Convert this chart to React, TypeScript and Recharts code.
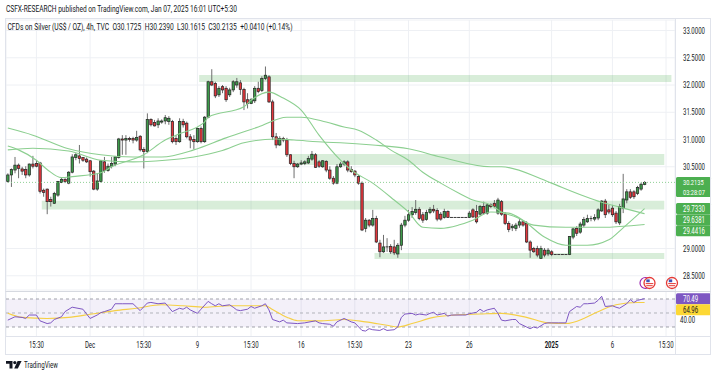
import React from 'react';
import { ComposedChart, Bar, Line, XAxis, YAxis, CartesianGrid, ReferenceArea, ReferenceLine } from 'recharts';

const SLOT_COUNT = 187;

const opens = [
30.23,30.35,30.44,30.53,30.46,30.45,30.35,30.55,30.56,30.57,
30.07,30.09,29.90,29.83,29.98,30.21,30.27,30.20,30.40,30.67,
30.70,30.67,30.64,30.61,30.42,30.09,30.23,30.59,30.43,30.51,
30.55,30.67,31.01,30.99,31.02,31.02,30.99,31.06,30.82,30.78,
31.37,31.31,31.27,31.32,31.34,31.33,31.33,31.02,30.96,31.33,
31.30,31.05,31.00,30.96,31.20,30.96,31.41,32.06,32.03,31.82,
31.97,31.94,31.82,31.91,32.00,32.04,31.92,31.73,31.66,31.71,
31.94,31.90,32.12,32.15,31.69,31.05,30.90,31.02,30.99,30.72,
30.56,30.50,30.55,30.56,30.57,30.64,30.72,30.59,30.50,30.60,
30.44,30.29,30.20,30.50,30.55,30.59,30.45,30.42,30.32,30.20,
29.37,29.52,29.43,29.55,29.10,28.94,29.03,29.04,29.03,28.90,
29.06,29.43,29.52,29.62,29.66,29.72,29.62,29.53,29.66,29.72,
29.70,29.63,29.57,29.68,29.57,29.57,29.57,29.57,29.57,29.57,
29.71,29.68,29.63,29.77,29.65,29.80,29.83,29.65,29.86,29.63,
29.46,29.38,29.37,29.43,29.49,29.46,29.12,29.00,29.00,28.82,
28.97,28.90,28.94,28.89,28.89,28.89,28.89,28.89,29.21,29.37,
29.30,29.43,29.49,29.55,29.54,29.56,29.69,29.87,29.71,29.74,
29.65,29.47,29.74,29.89,30.04,30.04,30.01,30.09,30.1725];

const highs = [
30.38,30.47,30.68,30.56,30.50,30.51,30.56,30.70,30.62,30.59,
30.10,30.10,29.95,30.04,30.24,30.31,30.29,30.42,30.73,30.75,
30.90,30.68,30.67,30.62,30.44,30.38,30.62,30.68,30.56,30.68,
30.70,31.03,31.08,31.08,31.05,31.05,31.16,31.08,30.86,31.48,
31.39,31.36,31.39,31.37,31.45,31.43,31.36,31.08,31.39,31.38,
31.33,31.10,31.08,31.22,31.24,31.43,32.08,32.29,32.06,31.98,
32.00,31.98,31.95,32.09,32.13,32.09,31.95,31.85,31.76,31.98,
32.06,32.16,32.34,32.18,31.73,31.12,31.06,31.05,31.03,30.73,
30.61,30.57,30.62,30.62,30.70,30.79,30.75,30.62,30.62,30.62,
30.51,30.33,30.55,30.59,30.62,30.62,30.51,30.44,30.35,30.23,
29.56,29.54,29.71,29.60,29.16,29.25,29.19,29.08,29.16,29.10,
29.47,29.60,29.71,29.76,29.89,29.76,29.67,29.71,29.76,29.80,
29.74,29.67,29.73,29.70,29.57,29.57,29.57,29.57,29.57,29.69,
29.74,29.80,29.80,29.86,29.83,29.83,29.89,29.93,29.89,29.67,
29.50,29.45,29.47,29.54,29.52,29.50,29.15,29.03,29.05,29.05,
29.01,29.01,28.97,28.89,28.89,28.89,28.89,29.23,29.38,29.41,
29.49,29.58,29.62,29.60,29.63,29.74,29.89,29.91,29.80,29.80,
29.69,29.82,30.37,30.09,30.09,30.07,30.15,30.21,30.2390];

const lows = [
30.21,30.13,30.38,30.29,30.35,30.29,30.32,30.47,30.49,30.01,
29.95,29.63,29.77,29.82,29.95,30.20,30.20,30.18,30.38,30.62,
30.56,30.59,30.57,30.32,30.07,30.06,30.21,30.39,30.41,30.47,
30.51,30.65,30.72,30.72,30.96,30.93,30.96,30.78,30.47,30.75,
31.24,31.24,31.21,31.29,31.28,31.27,30.93,30.90,30.94,31.22,
31.02,30.84,30.82,30.94,30.93,30.94,31.39,31.98,31.76,31.78,
31.85,31.69,31.78,31.87,31.95,31.82,31.54,31.57,31.65,31.67,
31.85,31.87,32.09,31.67,30.99,30.84,30.88,30.95,30.68,30.53,
30.29,30.48,30.53,30.53,30.55,30.61,30.48,30.48,30.48,30.40,
30.26,30.17,30.18,30.48,30.51,30.40,30.39,30.31,30.17,29.32,
29.30,29.39,29.40,29.10,28.84,28.92,28.94,28.90,28.88,28.83,
28.97,29.39,29.49,29.56,29.62,29.52,29.47,29.51,29.63,29.65,
29.50,29.51,29.55,29.56,29.57,29.57,29.57,29.57,29.57,29.56,
29.56,29.46,29.60,29.62,29.62,29.74,29.74,29.62,29.60,29.43,
29.30,29.32,29.32,29.38,29.40,29.10,28.83,28.92,28.84,28.81,
28.84,28.86,28.86,28.89,28.89,28.89,28.89,28.88,29.17,29.23,
29.27,29.39,29.47,29.50,29.50,29.52,29.67,29.56,29.63,29.58,
29.45,29.43,29.65,29.83,29.91,29.91,29.98,30.06,30.1615];

const closes = [
30.35,30.45,30.53,30.47,30.42,30.35,30.55,30.51,30.51,30.05,
30.03,29.86,29.86,30.01,30.23,30.27,30.23,30.40,30.68,30.72,
30.65,30.62,30.59,30.41,30.09,30.24,30.61,30.43,30.51,30.56,
30.68,31.01,30.99,31.02,31.00,30.99,31.04,30.81,30.78,31.37,
31.27,31.25,31.34,31.34,31.40,31.39,30.96,30.96,31.33,31.27,
31.05,30.99,30.96,31.20,30.96,31.41,32.06,32.00,31.80,31.94,
31.91,31.73,31.91,32.06,32.06,31.92,31.69,31.66,31.73,31.94,
31.88,32.12,32.18,31.69,31.05,30.90,31.02,30.99,30.72,30.56,
30.50,30.55,30.57,30.59,30.65,30.73,30.49,30.51,30.61,30.44,
30.29,30.20,30.50,30.55,30.59,30.44,30.41,30.35,30.20,29.34,
29.52,29.43,29.55,29.12,28.94,29.03,29.02,28.94,28.92,29.06,
29.43,29.52,29.62,29.68,29.72,29.55,29.52,29.66,29.72,29.69,
29.54,29.54,29.68,29.57,29.57,29.57,29.57,29.57,29.57,29.65,
29.58,29.49,29.77,29.65,29.80,29.77,29.77,29.89,29.63,29.46,
29.35,29.41,29.43,29.49,29.43,29.12,28.97,28.94,28.88,29.00,
28.88,28.97,28.89,28.89,28.89,28.89,28.89,29.22,29.36,29.28,
29.45,29.53,29.55,29.54,29.57,29.71,29.87,29.62,29.67,29.62,
29.49,29.77,29.91,30.04,29.94,29.95,30.12,30.18,30.2135];

const fastAt = [0,3,8,11,15,18,26,29,38,44,47,55,56,66,68,73,77,82,87,93,96,102,108,112,116,121,126,130,135,140,144,150,156,162,168,172,178];
const fastValues = [30.88,30.81,30.62,30.45,30.30,30.32,30.39,30.50,30.72,30.99,31.08,31.32,31.41,31.60,31.72,31.87,31.76,31.54,31.08,30.62,30.44,30.20,29.89,29.67,29.39,29.37,29.43,29.52,29.67,29.65,29.52,29.21,29.06,29.06,29.16,29.38,29.733];
const midAt = [0,7,17,26,35,43,52,61,70,78,82,89,94,98,103,107,112,116,121,126,130,135,138,142,147,156,166,178];
const midValues = [31.21,31.08,30.83,30.72,30.68,30.68,30.81,31.03,31.23,31.41,31.41,31.32,31.23,31.17,30.99,30.81,30.62,30.40,30.20,30.02,29.89,29.80,29.67,29.58,29.43,29.39,29.39,29.4416];
const slowAt = [0,7,17,26,35,44,52,60,66,75,80,89,93,102,112,121,135,138,149,152,166,171,178];
const slowValues = [30.81,30.84,30.79,30.62,30.59,30.62,30.68,30.80,30.94,31.01,30.99,30.95,30.94,30.90,30.83,30.68,30.50,30.50,30.28,30.20,29.85,29.76,29.6381];

// RSI and its moving average, sampled
const rsiAt = [0,2,4,5,6,8,9,11,12,13,15,16,18,21,23,25,26,27,29,30,32,35,36,37,39,40,42,44,45,46,48,49,50,51,53,54,56,57,58,59,60,62,63,64,65,67,68,69,71,72,73,74,76,77,78,81,83,86,87,88,90,91,92,94,95,96,97,99,100,101,102,104,105,106,108,109,110,111,113,114,115,117,118,119,120,122,123,124,125,127,128,129,131,132,133,134,136,137,138,139,141,142,143,145,146,147,148,150,151,152,154,156,157,159,160,161,162,164,165,166,167,169,170,171,173,174,175,176,178];
const rsiValues = [39.8,44.6,43.7,42.2,47.1,47.1,38.8,34.9,35.9,40.7,44.6,52.0,58.3,55.4,42.2,47.1,50.5,52.0,55.4,63.2,63.2,63.2,58.3,53.4,64.2,65.1,63.2,64.2,58.3,52.0,56.8,55.4,58.3,54.4,49.5,55.4,66.6,63.2,60.3,63.2,60.3,61.7,58.3,54.4,53.4,55.4,59.3,56.8,60.3,63.2,54.4,40.7,37.3,39.8,35.9,34.9,35.9,38.8,35.9,34.9,33.9,31.0,37.3,42.2,39.8,37.3,35.9,25.1,24.2,27.6,26.1,25.1,27.6,25.1,26.1,30.0,43.7,48.5,49.5,47.1,48.5,47.1,49.5,51.0,47.1,49.5,45.6,47.1,47.1,47.1,47.1,49.0,51.0,55.4,52.0,54.4,56.8,49.5,39.8,38.8,40.7,40.7,34.9,30.0,27.6,30.0,28.5,34.9,35.9,35.9,35.9,35.9,52.0,59.3,58.3,63.2,63.2,64.2,68.1,73.9,59.3,60.3,58.3,56.8,63.2,69.0,65.1,68.1,70.49];
const rsiMaAt = [0,4,11,17,23,30,36,43,49,55,62,68,72,74,78,81,87,94,100,106,109,113,119,125,132,138,145,151,156,161,164,170,176,178];
const rsiMaValues = [49.5,43.7,42.2,43.7,48.1,53.4,56.8,61.7,60.3,58.3,60.3,60.3,60.3,55.0,44.0,39.0,38.8,40.7,37.3,32.4,30.0,34.9,43.7,47.1,48.5,49.5,43.7,35.9,34.9,42.2,49.5,61.7,65.1,64.96];

const timeTickIndex = [8,23,38,53,68,82,97,112,129,152,169,184];
const timeTickLabels = ['15:30','Dec','15:30','9','15:30','16','15:30','23','26','2025','6','15:30'];

const priceTicks = [28.5,29,30.5,31,31.5,32,32.5,33];
const rsiTicks = [40];

const zoneStart = [54,80,10,103];
const zoneEnd = [185,183,183,183];
const zoneLow = [32.055,30.532,29.718,28.807];
const zoneHigh = [32.183,30.734,29.876,28.917];

const lastPrice = 30.2135;
const countdown = '03:28:07';
const maLast = [29.733,29.6381,29.4416];
const rsiLast = 70.49;
const rsiMaLast = 64.96;

const pick = (at: number[], vals: number[], i: number) => {
  const k = at.indexOf(i);
  return k >= 0 ? vals[k] : null;
};

const rows = Array.from({ length: SLOT_COUNT }, (_, i) => {
  const has = i < closes.length;
  return {
    i,
    range: has ? [lows[i], highs[i]] : undefined,
    open: has ? opens[i] : null,
    high: has ? highs[i] : null,
    low: has ? lows[i] : null,
    close: has ? closes[i] : null,
    fast: pick(fastAt, fastValues, i),
    mid: pick(midAt, midValues, i),
    slow: pick(slowAt, slowValues, i),
    rsi: pick(rsiAt, rsiValues, i),
    rsiMa: pick(rsiMaAt, rsiMaValues, i),
  };
});

const FONT = 'Roboto, "DejaVu Sans", sans-serif';
const TXT = '#131722';

function SqText({ x, y, anchor = 'start', fill = TXT, size = 8.5, bold = false, children }: any) {
  return (
    <g transform={`translate(${x},${y}) scale(0.71,1)`}>
      <text x={0} y={0} dy="0.35em" textAnchor={anchor} fontSize={size} fill={fill}
        fontWeight={bold ? 700 : 400} fontFamily={FONT}>{children}</text>
    </g>
  );
}

function Candle(props: any) {
  const { x, y, width, height, payload } = props;
  if (!payload || payload.close == null || x == null || y == null || isNaN(y)) return <g />;
  const top = Math.min(y, y + (height || 0));
  const h = Math.abs(height || 0);
  const { open, close, high, low } = payload;
  const span = high - low;
  const toY = (p: number) => (span > 0 ? top + ((high - p) / span) * h : top);
  const up = close >= open;
  const cx = x + width / 2;
  const bTop = toY(Math.max(open, close));
  const bBot = toY(Math.min(open, close));
  const flat = bBot - bTop < 0.9;
  return (
    <g>
      {h > 0 && <line x1={cx} x2={cx} y1={top} y2={top + h} stroke="#6e6e6e" strokeWidth={1} />}
      {flat ? (
        <line x1={x} x2={x + width} y1={bTop} y2={bTop} stroke="#3a3a3a" strokeWidth={1} />
      ) : (
        <rect x={x + 0.3} y={bTop} width={Math.max(width - 0.6, 1)} height={bBot - bTop}
          fill={up ? '#3d9a4a' : '#e3363c'} stroke="#222" strokeWidth={0.7} />
      )}
    </g>
  );
}

function AxisBox(props: any) {
  const { viewBox, text, sub, fill, color = '#fff', dy = 0 } = props;
  if (!viewBox) return null;
  const x = viewBox.x + viewBox.width + 1;
  const yc = viewBox.y + dy;
  const h = sub ? 20 : 11;
  return (
    <g>
      <rect x={x} y={yc - 5.5} width={35} height={h} rx={1.5} fill={fill} />
      <SqText x={x + 7} y={yc} fill={color} size={sub ? 8 : 8.5}>{text}</SqText>
      {sub ? <SqText x={x + 7} y={yc + 9.6} fill={color} size={8}>{sub}</SqText> : null}
    </g>
  );
}

function PriceTick(props: any) {
  const { x, y, payload } = props;
  return <SqText x={x + 8} y={y}>{Number(payload.value).toFixed(4)}</SqText>;
}

function RsiTick(props: any) {
  const { x, y, payload } = props;
  return <SqText x={x + 5} y={y}>{Number(payload.value).toFixed(2)}</SqText>;
}

function TimeTick(props: any) {
  const { x, y, payload } = props;
  const k = timeTickIndex.indexOf(payload.value);
  if (k < 0) return <g />;
  const label = timeTickLabels[k];
  return <SqText x={x} y={y + 9} anchor="middle" bold={label === '2025'}>{label}</SqText>;
}

function Flag({ cx, cy }: any) {
  return (
    <g>
      <circle cx={cx} cy={cy} r={5.5} fill="#fff" stroke="#e53935" strokeWidth={1.3} />
      <rect x={cx - 3.2} y={cy - 3.6} width={3.4} height={2.8} fill="#3f51b5" />
      <line x1={cx - 3.8} x2={cx + 3.8} y1={cy + 0.6} y2={cy + 0.6} stroke="#e53935" strokeWidth={1} />
      <line x1={cx - 3.2} x2={cx + 3.2} y1={cy + 2.7} y2={cy + 2.7} stroke="#e53935" strokeWidth={1} />
    </g>
  );
}

export default function App() {
  return (
    <div style={{ position: 'absolute', left: 0, top: 0, width: 716, height: 377, background: '#fff', overflow: 'hidden', fontFamily: FONT }}>
      <div style={{ position: 'absolute', left: 0, top: 0 }}>
        <ComposedChart width={716} height={292} data={rows} margin={{ top: 20, right: 0, bottom: 2, left: 6 }}>
          <CartesianGrid stroke="#eef0f4" strokeWidth={1} />
          <XAxis dataKey="i" type="category" scale="band" hide ticks={timeTickIndex} interval={0} />
          <YAxis orientation="right" width={41} domain={[28.239, 33.193]} ticks={priceTicks} allowDataOverflow
            axisLine={false} tickLine={false} tickSize={0} tickMargin={0} tick={<PriceTick />} interval={0} />
          {zoneStart.map((s, k) => (
            <ReferenceArea key={'z' + k} x1={s} x2={zoneEnd[k]} y1={zoneLow[k]} y2={zoneHigh[k]}
              fill="#4caf50" fillOpacity={0.22} stroke="none" />
          ))}
          <ReferenceLine y={lastPrice} stroke="#8fd095" strokeDasharray="1 2" strokeWidth={1} />
          <Line type="monotone" dataKey="slow" stroke="#8ccf90" strokeWidth={1.1} dot={false} activeDot={false} connectNulls isAnimationActive={false} />
          <Line type="monotone" dataKey="mid" stroke="#8ccf90" strokeWidth={1.1} dot={false} activeDot={false} connectNulls isAnimationActive={false} />
          <Line type="monotone" dataKey="fast" stroke="#8ccf90" strokeWidth={1.1} dot={false} activeDot={false} connectNulls isAnimationActive={false} />
          <Bar dataKey="range" shape={(p: any) => <Candle {...p} />} isAnimationActive={false} />
          <ReferenceLine y={lastPrice} stroke="none" label={<AxisBox text={lastPrice.toFixed(4)} sub={countdown} fill="#4caf50" />} />
          <ReferenceLine y={maLast[0]} stroke="none" label={<AxisBox text={maLast[0].toFixed(4)} fill="#4caf50" dy={0} />} />
          <ReferenceLine y={maLast[1]} stroke="none" label={<AxisBox text={maLast[1].toFixed(4)} fill="#4caf50" dy={5.9} />} />
          <ReferenceLine y={maLast[2]} stroke="none" label={<AxisBox text={maLast[2].toFixed(4)} fill="#4caf50" dy={6.2} />} />
        </ComposedChart>
      </div>
      <div style={{ position: 'absolute', left: 0, top: 292 }}>
        <ComposedChart width={716} height={62} data={rows} margin={{ top: 0, right: 0, bottom: 0, left: 6 }}>
          <CartesianGrid stroke="#eef0f4" horizontal={false} />
          <XAxis dataKey="i" type="category" scale="band" ticks={timeTickIndex} interval={0} height={18}
            axisLine={false} tickLine={false} tickSize={0} tickMargin={0} tick={<TimeTick />} />
          <YAxis orientation="right" width={41} domain={[17.14, 80]} ticks={rsiTicks} allowDataOverflow
            axisLine={false} tickLine={false} tickSize={0} tickMargin={0} tick={<RsiTick />} />
          <ReferenceArea y1={30} y2={70} fill="#7e57c2" fillOpacity={0.09} stroke="none" />
          <ReferenceLine y={70} stroke="#8a8d96" strokeDasharray="3 3" strokeWidth={0.8} />
          <ReferenceLine y={50} stroke="#a0a3ab" strokeDasharray="3 3" strokeWidth={0.8} />
          <ReferenceLine y={30} stroke="#8a8d96" strokeDasharray="3 3" strokeWidth={0.8} />
          <Line type="monotone" dataKey="rsiMa" stroke="#f5cf45" strokeWidth={1.1} dot={false} activeDot={false} connectNulls isAnimationActive={false} />
          <Line type="linear" dataKey="rsi" stroke="#7e57c2" strokeWidth={1} dot={false} activeDot={false} connectNulls isAnimationActive={false} />
          <ReferenceLine y={rsiLast} stroke="none" label={<AxisBox text={rsiLast.toFixed(2)} fill="#7e57c2" />} />
          <ReferenceLine y={rsiMaLast} stroke="none" label={<AxisBox text={rsiMaLast.toFixed(2)} fill="#fdd835" color={TXT} dy={7.2} />} />
        </ComposedChart>
      </div>
      <svg width={716} height={377} style={{ position: 'absolute', left: 0, top: 0, pointerEvents: 'none' }}>
        <rect x={5.5} y={18.5} width={705} height={336} fill="none" stroke="#e0e3eb" />
        <line x1={675.5} x2={675.5} y1={18.5} y2={354.5} stroke="#e0e3eb" />
        <line x1={5.5} x2={710.5} y1={291.5} y2={291.5} stroke="#d6d9e0" />
        <line x1={5.5} x2={710.5} y1={336.5} y2={336.5} stroke="#e0e3eb" />
        <text x={6} y={11.5} fontSize={8.3} fill={TXT} fontFamily={FONT} textLength={231} lengthAdjust="spacingAndGlyphs">
          CSFX-RESEARCH published on TradingView.com, Jan 07, 2025 16:01 UTC+5:30
        </text>
        <text x={7.5} y={29.5} fontSize={8.3} fill={TXT} fontFamily={FONT} textLength={285} lengthAdjust="spacingAndGlyphs"
          style={{ whiteSpace: 'pre' }}>
          {'CFDs on Silver (US$ / OZ), 4h, TVC  O30.1725  H30.2390  L30.1615  C30.2135  +0.0410 (+0.14%)'}
        </text>
        <circle cx={645.5} cy={283} r={5.5} fill="#fff" stroke="#9c27b0" strokeWidth={1.2} />
        <Flag cx={649.5} cy={283} />
        <Flag cx={672} cy={283} />
        <g fill={TXT}>
          <path d="M6 361 h6.5 v7.5 h-3 v-4.8 h-3.5z" />
          <circle cx={14.8} cy={362.6} r={1.6} />
          <path d="M17.6 361 h4 l-3.8 7.5 h-3.6z" />
          <text x={24} y={368} fontSize={9} fontFamily={FONT} textLength={34} lengthAdjust="spacingAndGlyphs">TradingView</text>
        </g>
      </svg>
    </div>
  );
}
